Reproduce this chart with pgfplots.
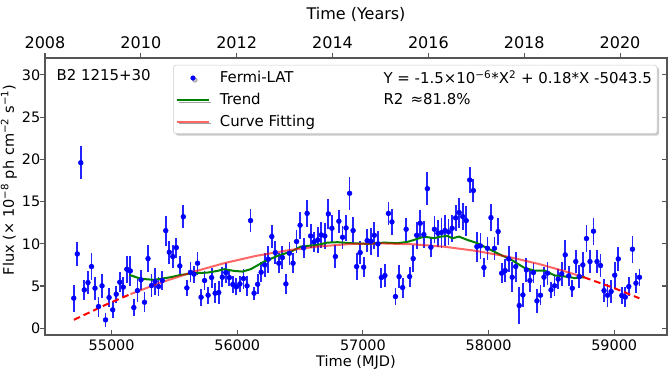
\documentclass[border=0pt]{standalone}
\usepackage{fontspec}
\setmainfont{DejaVu Sans}
\usepackage{pgfplots}
\pgfplotsset{compat=1.18}
\usepackage{pgfplotstable}
\usetikzlibrary{calc,shadows}

\definecolor{trendgreen}{RGB}{0,128,0}
\definecolor{barblue}{RGB}{35,35,255}
\definecolor{spine}{RGB}{85,85,85}

% Fermi-LAT monthly light curve: MJD, flux, error
\pgfplotstableread{
x y e
54699 3.56 1.58
54727 8.80 1.38
54755 19.6 1.97
54783 4.54 1.18
54812 5.41 1.38
54840 7.30 1.58
54868 4.74 1.38
54896 2.57 1.18
54924 5.02 1.38
54952 0.99 0.79
54980 3.64 1.18
55009 2.18 0.99
55037 4.03 0.99
55065 5.45 1.18
55093 4.86 1.18
55121 6.99 1.58
55149 6.79 1.78
55177 2.45 0.99
55206 4.46 1.38
55234 5.73 1.18
55262 3.08 1.18
55290 8.25 1.58
55318 5.06 1.38
55346 5.53 1.58
55374 4.94 1.18
55403 5.65 1.18
55431 11.56 1.78
55459 9.00 1.38
55487 8.49 1.38
55515 9.55 1.18
55543 7.38 1.18
55571 13.2 1.38
55599 4.78 0.99
55628 6.63 1.18
55656 6.40 0.99
55684 7.70 1.38
55712 3.67 0.99
55740 5.65 1.18
55768 3.91 0.99
55796 6.00 1.18
55824 4.15 1.18
55853 4.23 1.38
55881 6.04 1.18
55909 6.59 1.18
55937 6.00 0.99
55965 5.18 0.99
55993 4.90 0.99
56021 5.25 0.99
56050 5.88 1.18
56078 5.02 1.18
56106 12.75 1.38
56134 4.15 0.79
56162 5.21 1.18
56190 6.63 1.18
56218 7.50 1.38
56247 8.17 1.58
56275 10.86 1.38
56303 8.96 1.38
56331 7.70 1.18
56359 8.37 1.38
56387 5.25 1.18
56415 8.88 1.38
56444 7.70 1.18
56472 10.27 1.38
56500 12.2 1.58
56528 9.51 1.18
56556 13.6 1.58
56584 10.93 1.38
56612 10.22 1.18
56641 10.46 1.58
56669 11.05 1.58
56697 10.93 1.58
56725 13.54 1.78
56753 11.84 1.58
56781 8.49 1.38
56809 12.67 1.38
56838 10.78 1.38
56866 11.88 1.58
56894 15.98 1.98
56922 11.57 1.58
56950 7.30 1.58
56978 8.96 1.38
57006 7.23 1.18
57034 10.38 1.38
57063 10.30 1.58
57091 11.01 1.58
57119 9.99 1.58
57147 6.00 1.18
57175 6.24 1.38
57203 13.60 1.38
57231 12.59 1.58
57259 3.75 0.99
57288 6.12 1.38
57316 4.82 1.18
57344 11.72 1.38
57372 6.12 1.18
57400 8.25 1.58
57428 11.01 1.58
57456 12.43 1.58
57485 11.09 1.58
57513 16.53 1.98
57541 9.59 1.18
57569 11.72 1.58
57597 11.25 1.58
57625 11.33 1.78
57653 11.57 1.78
57681 11.41 1.58
57710 11.84 1.58
57738 13.07 1.58
57766 13.70 1.78
57794 13.22 1.58
57822 12.75 1.78
57850 17.56 1.58
57879 16.30 1.38
57907 9.67 1.78
57935 9.75 1.58
57963 7.19 1.18
57991 9.47 1.38
58019 13.10 1.58
58047 9.47 1.38
58076 11.45 1.58
58104 6.52 1.18
58132 6.83 1.38
58160 8.21 1.58
58188 6.04 1.78
58216 7.30 1.78
58244 2.69 2.17
58273 3.95 1.38
58301 6.91 1.38
58329 5.65 1.38
58357 6.59 1.18
58385 3.24 1.38
58413 3.91 1.18
58441 6.04 1.18
58469 6.52 1.38
58497 4.54 0.99
58525 5.02 1.18
58554 5.81 1.18
58582 6.44 1.38
58610 8.69 1.78
58638 6.20 1.18
58666 4.74 0.99
58694 7.90 1.38
58722 6.12 1.38
58750 7.50 1.58
58779 10.62 1.58
58807 7.90 1.38
58835 11.49 1.58
58863 7.90 1.38
58891 7.42 1.38
58919 4.46 1.38
58947 3.91 1.38
58975 4.35 1.38
59004 6.28 1.58
59032 8.21 1.38
59060 3.87 0.99
59088 3.68 1.18
59116 4.94 1.18
59145 9.36 1.58
59173 5.33 1.18
59201 6.04 0.99
}\fermi

% smoothed trend
\pgfplotstableread{
x y
55141 6.32
55234 5.85
55339 5.73
55472 6.05
55552 6.32
55657 6.52
55764 6.59
55843 6.79
55896 6.99
55975 6.79
56042 6.71
56108 7.00
56214 7.89
56321 8.57
56427 9.08
56506 9.67
56639 9.87
56718 10.14
56798 10.19
56904 10.07
57036 9.99
57168 10.14
57275 10.07
57354 10.22
57407 10.46
57486 10.85
57566 10.66
57619 10.85
57672 10.93
57713 10.66
57765 10.85
57831 10.46
57911 10.07
57990 9.48
58096 8.69
58178 8.13
58286 7.14
58366 6.82
58446 6.82
58527 6.25
58607 6.13
58687 5.94
58768 6.06
}\trend

% quadratic fit, sampled
\pgfplotstableread{
x y
55150 4.04
55400 5.45
55650 6.68
55900 7.72
56150 8.57
56400 9.22
56650 9.69
56900 9.97
57136 10.05
57400 9.94
57650 9.65
57900 9.16
58150 8.48
58400 7.61
58600 6.78
58760 6.03
}\fitin

\pgfplotstableread{
x y
54700 1.00
54950 2.76
55150 4.04
}\fitleft

\pgfplotstableread{
x y
58760 6.03
59000 4.75
59200 3.55
}\fitright

\begin{document}
\begin{tikzpicture}
\begin{axis}[
    name=main,
    width=466.5pt, height=207.75pt, scale only axis,
    xmin=54470, xmax=59420, ymin=-0.8, ymax=32,
    xtick={55000,56000,57000,58000,59000},
    ytick={0,5,10,15,20,25,30},
    scaled x ticks=false, scaled y ticks=false,
    xtick pos=bottom, ytick pos=right, yticklabel pos=left,
    tick align=inside,
    major tick length=3.5pt,
    axis line style={spine, line width=0.8pt},
    every tick/.style={spine, line width=0.8pt},
    /pgf/number format/assume math mode=true,
    /pgf/number format/set thousands separator={},
    tick label style={font=\fontsize{10.8}{13}\selectfont},
    xlabel={Time (MJD)},
    ylabel={Flux (× 10\textsuperscript{−8} ph cm\textsuperscript{−2} s\textsuperscript{−1})},
    label style={font=\fontsize{10.9}{13}\selectfont},
    xlabel style={yshift=3pt},
    ylabel style={at={(ticklabel cs:0.56)}, yshift=-3pt},
    clip=false,
    legend columns=2,
    legend cell align=left,
    legend style={
        at={(0.206,0.975)}, anchor=north west,
        font=\fontsize{11.2}{13}\selectfont,
        draw=black!20, fill=white, rounded corners=2pt,
        drop shadow={shadow xshift=1.5pt, shadow yshift=-1.5pt, opacity=0.35, fill=black!60},
        inner sep=2pt, row sep=2pt,
        /tikz/every even column/.append style={column sep=47pt},
    },
]
    % data
    \addplot[only marks, mark=*, mark size=1.8pt, color=blue, forget plot,
        error bars/.cd, y dir=both, y explicit,
        error bar style={line width=1.35pt, barblue}, error mark=none]
        table[x=x, y=y, y error=e] {\fermi};
    \addplot[trendgreen, line width=1.5pt, forget plot] table[x=x, y=y] {\trend};
    \addplot[red, opacity=0.6, line width=1.5pt, forget plot] table[x=x, y=y] {\fitin};
    \addplot[red, line width=1.5pt, dash pattern=on 5pt off 3pt, forget plot] table[x=x, y=y] {\fitleft};
    \addplot[red, line width=1.5pt, dash pattern=on 5pt off 3pt, forget plot] table[x=x, y=y] {\fitright};

    % legend, two columns filled row by row
    \addlegendimage{legend image code/.code={\path (0cm,0cm) (1.05cm,0cm); \fill[blue] (0.42cm,0cm) circle (1.7pt);}}
    \addlegendentry{Fermi-LAT}
    \addlegendimage{legend image code/.code={\path (0cm,0cm);}}
    \addlegendentry{Y = -1.5×10\textsuperscript{−6}*X\textsuperscript{2} + 0.18*X -5043.5}
    \addlegendimage{legend image code/.code={\path (0cm,0cm) (1.05cm,0cm); \draw[trendgreen, line width=1.5pt] (0cm,0cm) -- (0.85cm,0cm);}}
    \addlegendentry{Trend}
    \addlegendimage{legend image code/.code={\path (0cm,0cm);}}
    \addlegendentry{R2 \,≈81.8\%}
    \addlegendimage{legend image code/.code={\path (0cm,0cm) (1.05cm,0cm); \draw[red, opacity=0.6, line width=1.5pt] (0cm,0cm) -- (0.85cm,0cm);}}
    \addlegendentry{Curve Fitting}

    \node[anchor=west, font=\fontsize{11.2}{13}\selectfont] at (rel axis cs:0.011,0.939) {B2 1215+30};
\end{axis}
\begin{axis}[
    width=466.5pt, height=207.75pt, scale only axis,
    xmin=2008, xmax=2020.98, ymin=-0.8, ymax=32,
    axis x line*=top, axis y line*=left,
    xtick={2008,2010,2012,2014,2016,2018,2020},
    ytick={0,5,10,15,20,25,30}, yticklabels={},
    scaled x ticks=false,
    tick align=outside,
    major tick length=3.5pt,
    axis line style={spine, line width=0.8pt, -},
    every tick/.style={spine, line width=0.8pt},
    /pgf/number format/assume math mode=true,
    /pgf/number format/set thousands separator={},
    xticklabel style={font=\fontsize{12}{14}\selectfont},
    xlabel={Time (Years)},
    xlabel style={font=\fontsize{12}{14}\selectfont, yshift=4pt},
]
\end{axis}
\pgfresetboundingbox
\path ($(main.south west)+(-33.75pt,-27pt)$) rectangle ($(main.north east)+(3.75pt,43.5pt)$);
\end{tikzpicture}
\end{document}
